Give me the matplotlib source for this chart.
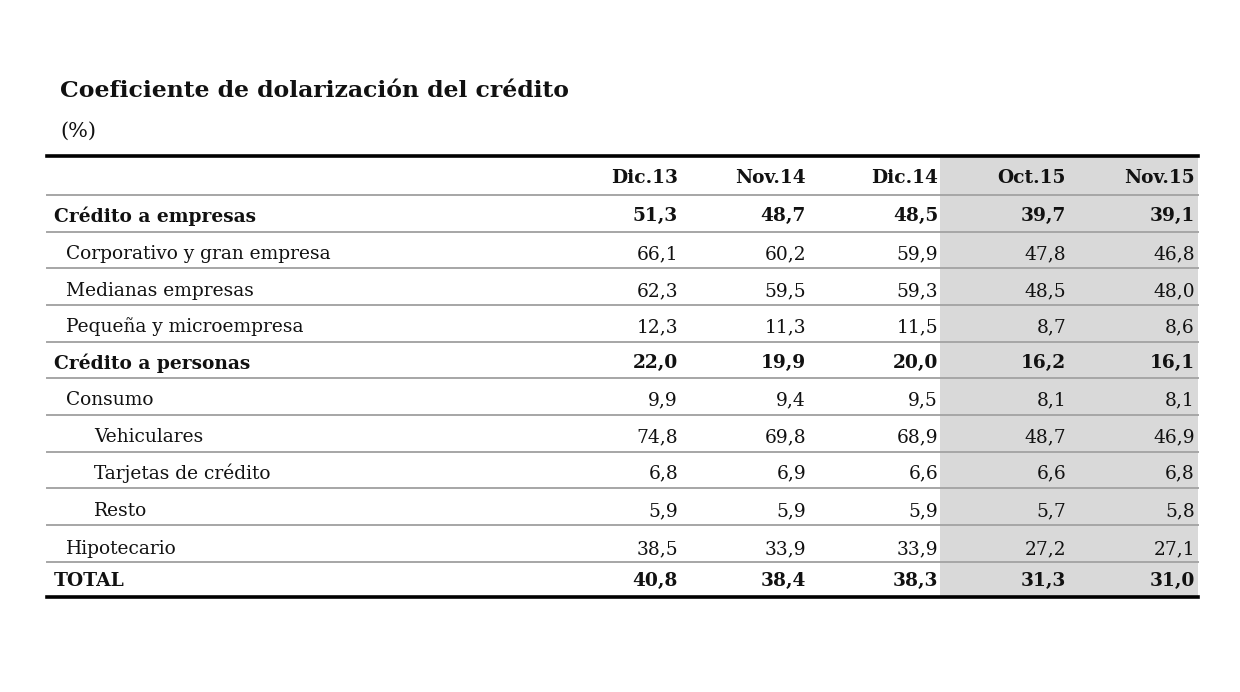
import matplotlib
matplotlib.use('Agg')
import matplotlib.pyplot as plt

# table content
title = 'Coeficiente de dolarización del crédito'
subtitle = '(%)'
columns = ['Dic.13', 'Nov.14', 'Dic.14', 'Oct.15', 'Nov.15']
row_labels = ['Crédito a empresas', 'Corporativo y gran empresa', 'Medianas empresas',
              'Pequeña y microempresa', 'Crédito a personas', 'Consumo', 'Vehiculares',
              'Tarjetas de crédito', 'Resto', 'Hipotecario', 'TOTAL']
row_level = [0, 1, 1, 1, 0, 1, 2, 2, 2, 1, 0]
row_bold = [True, False, False, False, True, False, False, False, False, False, True]
dic13 = [51.3, 66.1, 62.3, 12.3, 22.0, 9.9, 74.8, 6.8, 5.9, 38.5, 40.8]
nov14 = [48.7, 60.2, 59.5, 11.3, 19.9, 9.4, 69.8, 6.9, 5.9, 33.9, 38.4]
dic14 = [48.5, 59.9, 59.3, 11.5, 20.0, 9.5, 68.9, 6.6, 5.9, 33.9, 38.3]
oct15 = [39.7, 47.8, 48.5, 8.7, 16.2, 8.1, 48.7, 6.6, 5.7, 27.2, 31.3]
nov15 = [39.1, 46.8, 48.0, 8.6, 16.1, 8.1, 46.9, 6.8, 5.8, 27.1, 31.0]
series = [dic13, nov14, dic14, oct15, nov15]


def fmt(v):
    return f'{v:.1f}'.replace('.', ',')


def main():
    plt.rcParams['font.family'] = 'DejaVu Serif'
    fig = plt.figure(figsize=(12.4, 6.92), dpi=100)
    ax = fig.add_axes([0, 0, 1, 1])
    ax.set_xlim(0, 1240)
    ax.set_ylim(692, 0)
    ax.axis('off')

    left, right = 47, 1198
    top, bottom = 156, 597
    header_y = 178
    row_y = [216, 254, 291, 327, 363, 400, 437, 473, 511, 549, 581]
    row_lines = [195, 232, 268, 305, 342, 378, 415, 452, 488, 525, 562]
    col_x = [678, 806, 938, 1066, 1195]
    indent = {0: 54, 1: 66, 2: 94}
    fs = 13.4

    ax.text(60, 91, title, fontsize=16.9, fontweight='bold', va='center', color='#111111')
    ax.text(60, 131, subtitle, fontsize=15, va='center', color='#111111')

    # shaded block for the latest columns
    ax.fill_between([940, right], top, bottom, color='#d9d9d9', lw=0, zorder=0)

    for y in row_lines:
        ax.plot([left, right], [y, y], color='#a6a6a6', lw=1.4, zorder=1)
    ax.plot([left, right], [top, top], color='black', lw=2.6, zorder=2)
    ax.plot([left, right], [bottom, bottom], color='black', lw=2.6, zorder=2)

    for j, c in enumerate(columns):
        ax.text(col_x[j], header_y, c, fontsize=fs, fontweight='bold', ha='right',
                va='center', color='#111111')

    for i, lab in enumerate(row_labels):
        w = 'bold' if row_bold[i] else 'normal'
        ax.text(indent[row_level[i]], row_y[i], lab, fontsize=fs, fontweight=w,
                va='center', color='#111111')
        for j, s in enumerate(series):
            ax.text(col_x[j], row_y[i], fmt(s[i]), fontsize=fs, fontweight=w,
                    ha='right', va='center', color='#111111')

    fig.savefig('out.png', dpi=100)


if __name__ == '__main__':
    main()
